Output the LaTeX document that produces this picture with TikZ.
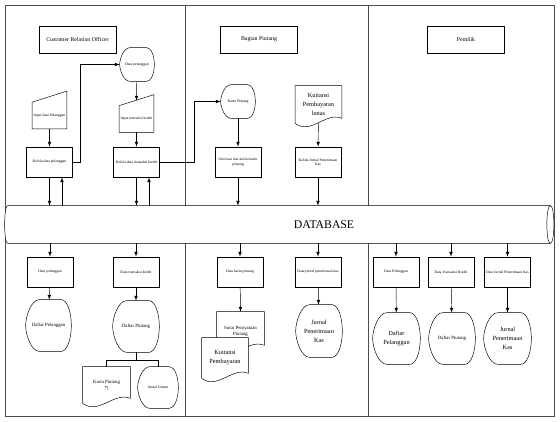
\documentclass[tikz,border=0pt]{standalone}
\usepackage{tikz, xcolor}
\usepackage{fontspec}
\setmainfont{Liberation Serif}
\usetikzlibrary{shapes,arrows,calc}
\pgfdeclarelayer{bg}
\pgfsetlayers{bg,main}

\begin{document}
\begin{tikzpicture}[x=0.03cm, y=-0.03cm, line width=0.6pt, >=latex]
\tikzstyle{tinyfont}=[font=\fontsize{3.2}{3.8}\selectfont]
\tikzstyle{smallfont}=[font=\fontsize{4.1}{5}\selectfont]
\tikzstyle{bigfont}=[font=\fontsize{5.4}{7.6}\selectfont]
\tikzstyle{vertext}=[rectangle, draw, minimum width=2.31cm, minimum height=0.81cm, font=\fontsize{5}{6}\selectfont]
\tikzstyle{vertexr}=[rectangle, draw, minimum width=1.38cm, minimum height=0.9cm, inner sep=1pt, align=center, tinyfont]
\tikzstyle{vertexm}=[rectangle, minimum width=1.02cm, minimum height=0.78cm, inner sep=1pt, align=center, tinyfont]
\tikzstyle{vertexd}=[rectangle, minimum width=1.38cm, minimum height=1.53cm, inner sep=1pt, align=center]
\tikzstyle{vertexk}=[rectangle, minimum width=1.38cm, minimum height=1.14cm, inner sep=1pt, align=center]
\tikzstyle{vertexdb}=[rectangle, minimum width=16.26cm, minimum height=1.11cm, inner sep=0pt]
\tikzstyle{drawstyle}=[->]

\useasboundingbox (0,0) rectangle (560,422);

% titles
\node[vertext] (G0x0) at (77.5,39.5) {Customer Relation Officer};
\node[vertext] (G2x0) at (259,39.5) {Bagian Piutang};
\node[vertext] (G5x0) at (466,39.5) {Pemilik};

% upper half
\node[vertexd, tinyfont, minimum width=1.02cm, minimum height=0.99cm] (G1x1) at (137,64.5) {Data pelanggan};
\node[vertexd, tinyfont, minimum width=1.02cm, minimum height=0.99cm] (G2x1) at (238,101.5) {Kartu Piutang};
\node[vertexk, bigfont, minimum height=1.11cm] (G3x1) at (318.5,104.5) {Kuitansi\\Pembayaran\\lunas};
\node[vertexm] (G0x2) at (49.5,115.5) {Input data Pelanggan};
\node[vertexm] (G1x2) at (136.5,119) {Input transaksi kredit};
\node[vertexr] (G0x3) at (49.5,162) {Kelola data pelanggan};
\node[vertexr] (G1x3) at (136.5,162) {Kelola data transaksi kredit};
\node[vertexr] (G2x3) at (238,162) {Otorisasi dan kelola kartu\\piutang};
\node[vertexr] (G3x3) at (318,162) {Kelola Jurnal Penerimaan\\Kas};

\node[vertexdb] (DB) at (279,224.5) {};
\node[font=\fontsize{10}{12}\selectfont] (DBtext) at (324,225) {DATABASE};

% lower half
\node[vertexr] (G0x4) at (50,272) {Data pelanggan};
\node[vertexr] (G1x4) at (136,272) {Data transaksi kredit};
\node[vertexr] (G2x4) at (240,272) {Data kartu piutang};
\node[vertexr] (G3x4) at (318,272) {Data jurnal penerimaan kas};
\node[vertexr] (G4x4) at (396,272) {Data Pelanggan};
\node[vertexr] (G5x4) at (451,272) {Data Transaksi Kredit};
\node[vertexr] (G6x4) at (507.5,272) {Data Jurnal Penerimaan Kas};

\node[vertexd, smallfont, minimum width=1.35cm] (G0x5) at (48.5,325.5) {Daftar Pelanggan};
\node[vertexd, smallfont] (G1x5) at (136,326.5) {Daftar Piutang};
\node[vertexk, smallfont, minimum width=1.41cm] (G2x5) at (240.5,331) {Surat Pernyataan\\Piutang};
\node[vertexk, bigfont, minimum height=1.2cm] (G2x6) at (225,358) {Kuitansi\\Pembayaran};
\node[vertexd, bigfont, minimum height=1.56cm] (G3x5) at (319,331) {Jurnal\\Penerimaan\\Kas};
\node[vertexd, bigfont, minimum width=1.41cm] (G4x5) at (396.5,338.5) {Daftar\\Pelanggan};
\node[vertexd, smallfont] (G5x5) at (452,338.5) {Daftar Piutang};
\node[vertexd, bigfont, minimum width=1.41cm] (G6x5) at (507.5,338.5) {Jurnal\\Penerimaan\\Kas};
\node[vertexk, smallfont, minimum width=1.41cm, minimum height=1.08cm] (G0x6) at (106.5,385) {Kartu Piutang\\*)};
\node[vertexd, tinyfont, minimum width=1.2cm, minimum height=1.23cm] (G1x6) at (158,387.5) {Jurnal Umum};

% outlines
\begin{pgfonlayer}{bg}
\draw[black!70] (5,5) rectangle (554,416);
\draw[black!70] (185,5) -- (185,416);
\draw[black!70] (368,5) -- (368,416);
\filldraw[fill=white] (DB.north west) -- (DB.north east) .. controls ($(DB.north east)+(4.7,0)$) and ($(DB.south east)+(4.7,0)$) .. (DB.south east) -- (DB.south west) .. controls ($(DB.south west)+(-4,0)$) and ($(DB.north west)+(-4,0)$) .. (DB.north west) -- cycle;
\draw (DB.north east) .. controls ($(DB.north east)+(-4.7,0)$) and ($(DB.south east)+(-4.7,0)$) .. (DB.south east);
\foreach \n in {G0x2,G1x2}
  \draw (\n.south west) -- (\n.south east) -- ($(\n.north east)+(0,-11)$) -- (\n.north west) -- cycle;
\foreach \n in {G1x1,G2x1,G0x5,G1x5,G3x5,G4x5,G5x5,G6x5,G1x6}
  \draw ($(\n.north west)!0.3!(\n.north east)$) -- ($(\n.north west)!0.78!(\n.north east)$)
    .. controls ($(\n.north west)!0.9!(\n.north east)$) and ($(\n.east)!0.55!(\n.north east)$) .. (\n.east)
    .. controls ($(\n.east)!0.55!(\n.south east)$) and ($(\n.south west)!0.9!(\n.south east)$) .. ($(\n.south west)!0.78!(\n.south east)$)
    -- ($(\n.south west)!0.3!(\n.south east)$)
    .. controls ($(\n.south west)!0.12!(\n.south east)$) and ($(\n.west)!0.35!(\n.south west)$) .. (\n.west)
    .. controls ($(\n.west)!0.35!(\n.north west)$) and ($(\n.north west)!0.12!(\n.north east)$) .. ($(\n.north west)!0.3!(\n.north east)$) -- cycle;
\foreach \n in {G3x1,G2x5,G2x6,G0x6}
  \filldraw[fill=white] (\n.north west) -- (\n.north east) -- ($(\n.south east)+(0,-5)$)
    .. controls ($(\n.south east)+(-16,-12)$) and ($(\n.south west)+(16,12)$) .. (\n.south west) -- cycle;
\end{pgfonlayer}

% connectors
\draw[drawstyle] (G0x2) -- (G0x3);
\draw[drawstyle] (G0x3.east) -- ++(7,0) |- (G1x1.west);
\draw[drawstyle] (G1x1) -- ($(G1x2.north)+(0,-5)$);
\draw[drawstyle] (G1x2) -- (G1x3);
\draw[drawstyle] (G1x3.east) -- ++(34,0) |- (G2x1.west);
\draw[drawstyle] (G2x1) -- (G2x3);
\draw[drawstyle] (G3x1) -- (G3x3);
\coordinate (G0x3up) at ($(G0x3.south)+(12.5,0)$);
\coordinate (G1x3up) at ($(G1x3.south)+(12.5,0)$);
\draw[drawstyle] (G0x3) -- (G0x3 |- DB.north);
\draw[drawstyle] (G0x3up |- DB.north) -- (G0x3up);
\draw[drawstyle] (G1x3) -- (G1x3 |- DB.north);
\draw[drawstyle] (G1x3up |- DB.north) -- (G1x3up);
\draw[drawstyle] (G2x3) -- (G2x3 |- DB.north);
\draw[drawstyle] (G3x3) -- (G3x3 |- DB.north);
\foreach \i in {0,...,6}
  \draw[drawstyle] (G\i x4 |- DB.south) -- (G\i x4);
\foreach \i in {0,1,3,4,5,6}
  \draw[drawstyle] (G\i x4) -- (G\i x5);
\draw[drawstyle] (G2x4) -- (G2x5.north);
\coordinate (G1x5br) at ($(G1x5.south)+(0,8)$);
\draw (G1x5.south) -- (G1x5br);
\draw (G0x6.north) |- (G1x5br) -| (G1x6.north);
\end{tikzpicture}
\end{document}
